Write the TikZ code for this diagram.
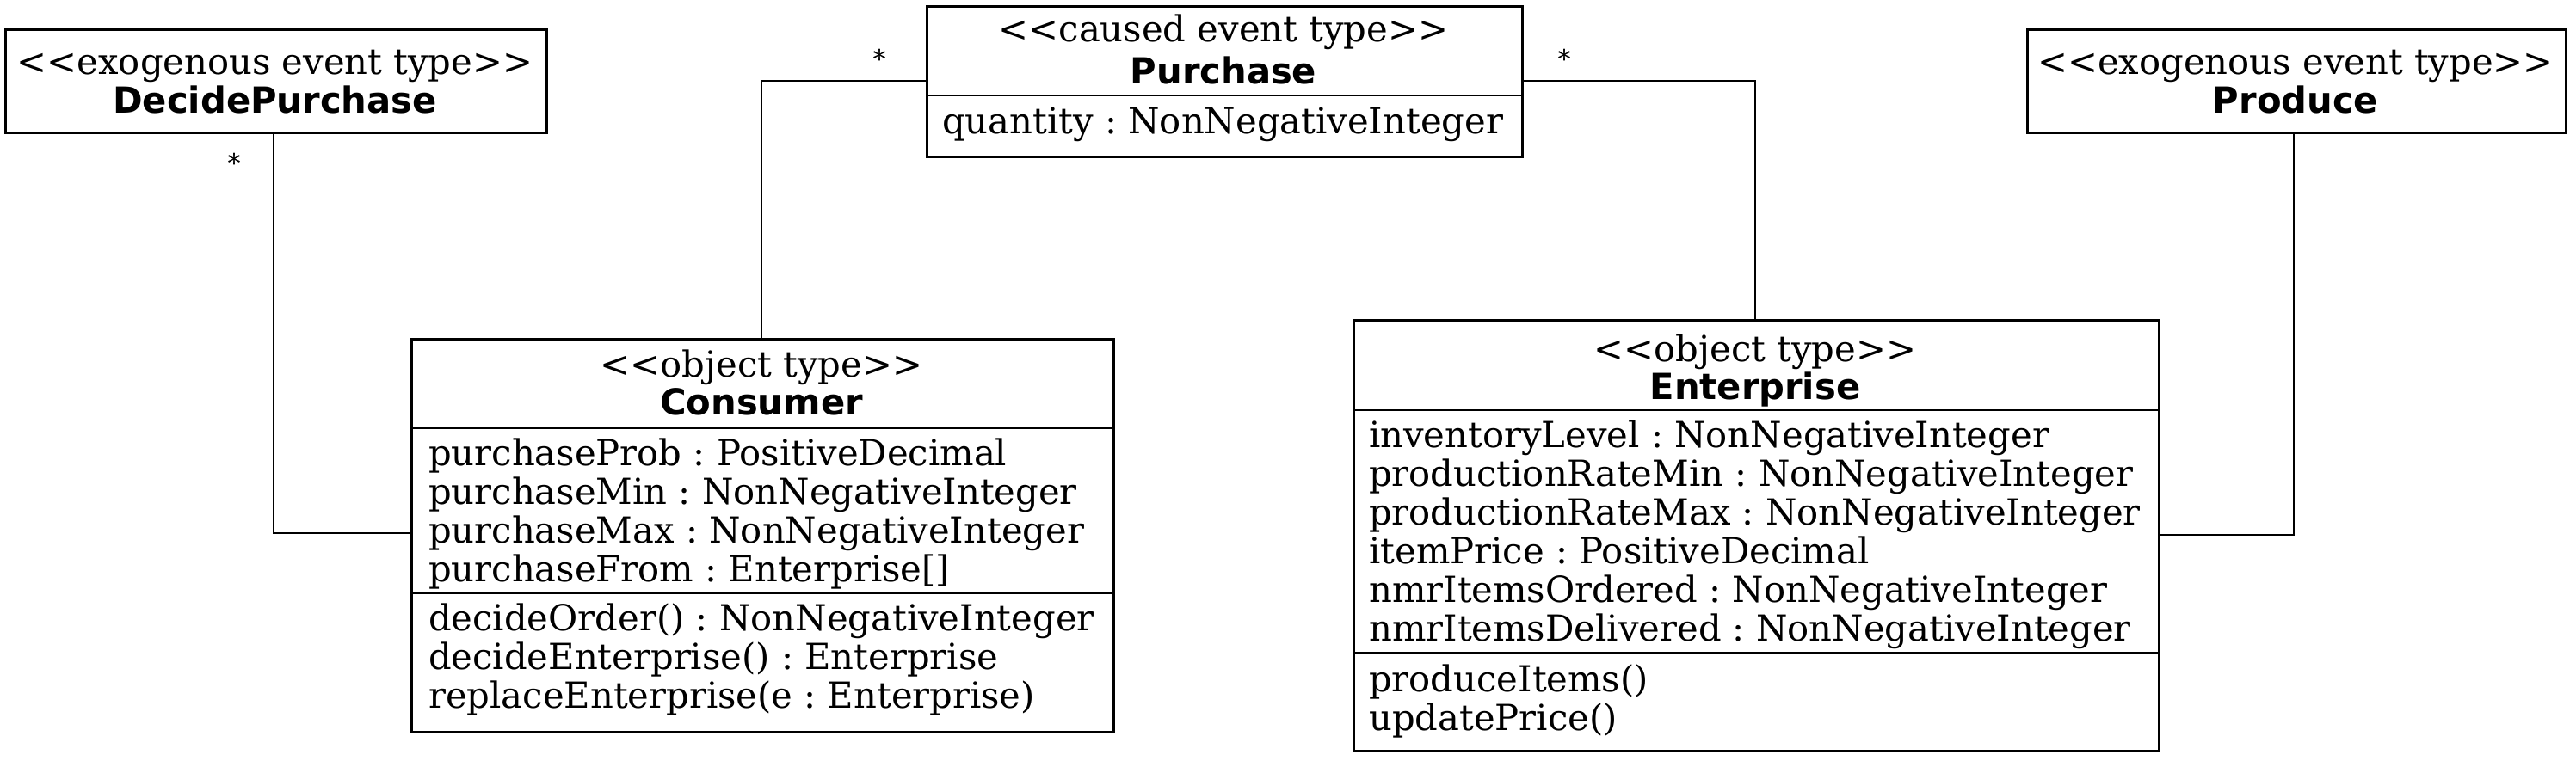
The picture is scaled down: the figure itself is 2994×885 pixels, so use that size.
\documentclass[tikz,border=0pt]{standalone}
\usepackage{fontspec}
\newfontfamily\umlrm{DejaVu Serif}
\newfontfamily\umlbf{DejaVu Sans}[BoldFont={DejaVu Sans Bold}]
\begin{document}
\frenchspacing
\begin{tikzpicture}[x=1pt,y=-1pt,
  box/.style={draw, line width=2.8pt, rectangle, inner sep=0pt, anchor=north west},
  sep/.style={line width=2.8pt},
  conn/.style={line width=2.8pt},
  txt/.style={inner sep=0pt, anchor=base, font=\umlrm\fontsize{41.7}{45}\selectfont},
  lt/.style={inner sep=0pt, anchor=base west, font=\umlrm\fontsize{41.7}{45}\selectfont},
  nm/.style={inner sep=0pt, anchor=base, font=\umlbf\bfseries\fontsize{41.7}{45}\selectfont},
  mult/.style={inner sep=0pt, anchor=base, font=\umlrm\fontsize{30}{36}\selectfont}]
\useasboundingbox (0,0) rectangle (2994,885);
% DecidePurchase
\node[box, minimum width=629pt, minimum height=120pt] (dp) at (5,33) {};
\node[txt] (dps) at (319.5,87) {<<exogenous event type>>};
\node[nm] (dpn) at (319.5,132) {DecidePurchase};
% Purchase
\node[box, minimum width=692pt, minimum height=175pt] (pu) at (1076,6) {};
\draw[sep] (1076,111) -- (1768,111);
\node[txt] (pus) at (1422,49) {<<caused event type>>};
\node[nm] (pun) at (1422,98) {Purchase};
\node[lt] (pua) at (1095,156) {quantity : NonNegativeInteger};
% Produce
\node[box, minimum width=626pt, minimum height=120pt] (pr) at (2355,33) {};
\node[txt] (prs) at (2668,87) {<<exogenous event type>>};
\node[nm] (prn) at (2668,132) {Produce};
% Consumer
\node[box, minimum width=816pt, minimum height=457pt] (co) at (477,393) {};
\draw[sep] (477,498) -- (1293,498);
\draw[sep] (477,690) -- (1293,690);
\node[txt] (cos) at (885,438) {<<object type>>};
\node[nm] (con) at (885,482) {Consumer};
\node[lt] (ca1) at (498,541) {purchaseProb : PositiveDecimal};
\node[lt] (ca2) at (498,586) {purchaseMin : NonNegativeInteger};
\node[lt] (ca3) at (498,631) {purchaseMax : NonNegativeInteger};
\node[lt] (ca4) at (498,676) {purchaseFrom : Enterprise[]};
\node[lt] (cm1) at (498,733) {decideOrder() : NonNegativeInteger};
\node[lt] (cm2) at (498,778) {decideEnterprise() : Enterprise};
\node[lt] (cm3) at (498,823) {replaceEnterprise(e : Enterprise)};
% Enterprise
\node[box, minimum width=936pt, minimum height=501pt] (en) at (1572,371) {};
\draw[sep] (1572,477) -- (2508,477);
\draw[sep] (1572,759) -- (2508,759);
\node[txt] (ens) at (2040,420) {<<object type>>};
\node[nm] (enn) at (2040,464) {Enterprise};
\node[lt] (ea1) at (1591,520) {inventoryLevel : NonNegativeInteger};
\node[lt] (ea2) at (1591,565) {productionRateMin : NonNegativeInteger};
\node[lt] (ea3) at (1591,610) {productionRateMax : NonNegativeInteger};
\node[lt] (ea4) at (1591,655) {itemPrice : PositiveDecimal};
\node[lt] (ea5) at (1591,700) {nmrItemsOrdered : NonNegativeInteger};
\node[lt] (ea6) at (1591,745) {nmrItemsDelivered : NonNegativeInteger};
\node[lt] (em1) at (1591,804) {produceItems()};
\node[lt] (em2) at (1591,849) {updatePrice()};
% connectors
\coordinate (c1) at (318,620);
\draw[conn] (dp.south west -| c1) -- (c1) -- (c1 -| co.west);
\coordinate (c2) at (885,94);
\draw[conn] (co.north west -| c2) -- (c2) -- (c2 -| pu.west);
\coordinate (c3) at (2040,94);
\draw[conn] (c3 -| pu.east) -- (c3) -- (en.north west -| c3);
\coordinate (c4) at (2666,622);
\draw[conn] (pr.south west -| c4) -- (c4) -- (c4 -| en.east);
\node[mult] (m1) at (272,201) {*};
\node[mult] (m2) at (1022,80) {*};
\node[mult] (m3) at (1818,80) {*};
\end{tikzpicture}
\end{document}
